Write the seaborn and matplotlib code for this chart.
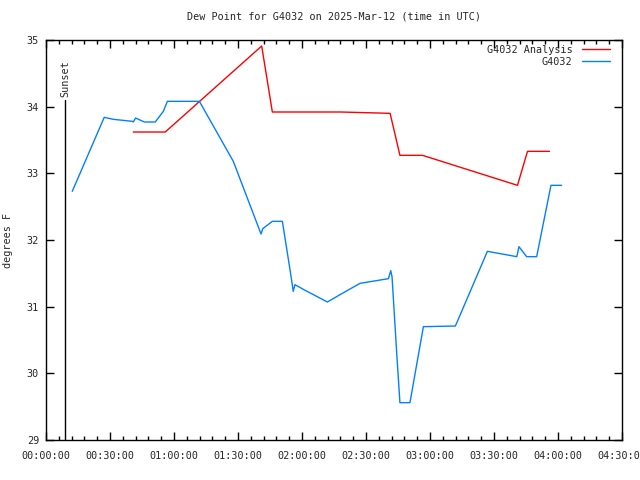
import matplotlib
matplotlib.use("Agg")
import matplotlib.pyplot as plt
import seaborn as sns
import pandas as pd
from matplotlib.ticker import FuncFormatter, MultipleLocator

# G4032 observed dew point (minutes after 00:00 UTC, degrees F)
obs_min = [12.3, 27.3, 31.6, 40.5, 40.9, 42.0, 46.1, 51.2, 55.0, 56.9, 71.9, 87.8,
           100.8, 101.6, 106.1, 110.8, 114.4, 115.9, 116.7, 120.6, 131.9, 137.8,
           147.2, 160.5, 161.6, 162.2, 164.4, 165.9, 170.6, 176.9, 191.9, 206.9,
           220.7, 221.7, 225.3, 230.0, 236.7, 241.7]
obs_val = [32.73, 33.84, 33.81, 33.78, 33.77, 33.83, 33.77, 33.77, 33.93, 34.08, 34.08, 33.18,
           32.09, 32.17, 32.28, 32.28, 31.55, 31.23, 31.33, 31.26, 31.07, 31.18,
           31.35, 31.42, 31.54, 31.45, 30.30, 29.56, 29.56, 30.70, 30.71, 31.83,
           31.75, 31.90, 31.75, 31.75, 32.82, 32.82]

# G4032 Analysis
ana_min = [40.9, 55.9, 101.1, 106.1, 138.1, 161.3, 165.9, 176.5, 221.0, 225.7, 236.0]
ana_val = [33.62, 33.62, 34.91, 33.92, 33.92, 33.90, 33.27, 33.27, 32.82, 33.33, 33.33]

sunset_min = 8.9
title = "Dew Point for G4032 on 2025-Mar-12 (time in UTC)"

sns.set_style("white")
plt.rcParams['font.family'] = ['DejaVu Sans Mono', 'DejaVu Sans']
FS = 7.3
plt.rcParams['font.size'] = FS

df = pd.concat([
    pd.DataFrame({"t": ana_min, "v": ana_val, "series": "G4032 Analysis"}),
    pd.DataFrame({"t": obs_min, "v": obs_val, "series": "G4032"}),
])

fig = plt.figure(figsize=(6.4, 4.8), dpi=100)
ax = fig.add_axes([46/640, 1-440/480, (622-46)/640, 400/480])

sns.lineplot(data=df, x="t", y="v", hue="series",
             palette={"G4032 Analysis": "#ff0000", "G4032": "#0080ff"},
             linewidth=1.0, ax=ax, sort=False, estimator=None)

ax.plot([sunset_min, sunset_min], [29, 34.1], color="black", linewidth=1.0)
ax.text(sunset_min, 34.15, "Sunset", rotation=90, ha="center", va="bottom", fontsize=FS)

ax.set_xlim(0, 270)
ax.set_ylim(29, 35)
ax.xaxis.set_major_locator(MultipleLocator(30))
ax.xaxis.set_minor_locator(MultipleLocator(6))
ax.yaxis.set_major_locator(MultipleLocator(1))

def fmt(x, pos):
    m = int(round(x))
    return "%02d:%02d:00" % (m // 60, m % 60)
ax.xaxis.set_major_formatter(FuncFormatter(fmt))

ax.tick_params(axis="both", which="both", direction="in", top=True, right=True,
               bottom=True, left=True, labelsize=FS, color="black")
ax.tick_params(which="major", length=6, width=1, pad=5)
ax.tick_params(axis="x", which="major", pad=8)
ax.tick_params(which="minor", length=3, width=1)
for s in ax.spines.values():
    s.set_color("black")
    s.set_linewidth(1.0)

ax.set_xlabel("")
ax.set_ylabel("degrees F", fontsize=FS, labelpad=10)
ax.set_title(title, fontsize=FS, pad=15)

leg = ax.legend(loc="upper right", bbox_to_anchor=(1 - 12/576, 1 - 5/400),
                frameon=False, markerfirst=False,
                fontsize=FS, handlelength=2.8, borderaxespad=0, borderpad=0,
                labelspacing=0.15, handletextpad=0.9, alignment="right")
for t in leg.get_texts():
    t.set_ha("right")

fig.savefig("out.png", dpi=100)
